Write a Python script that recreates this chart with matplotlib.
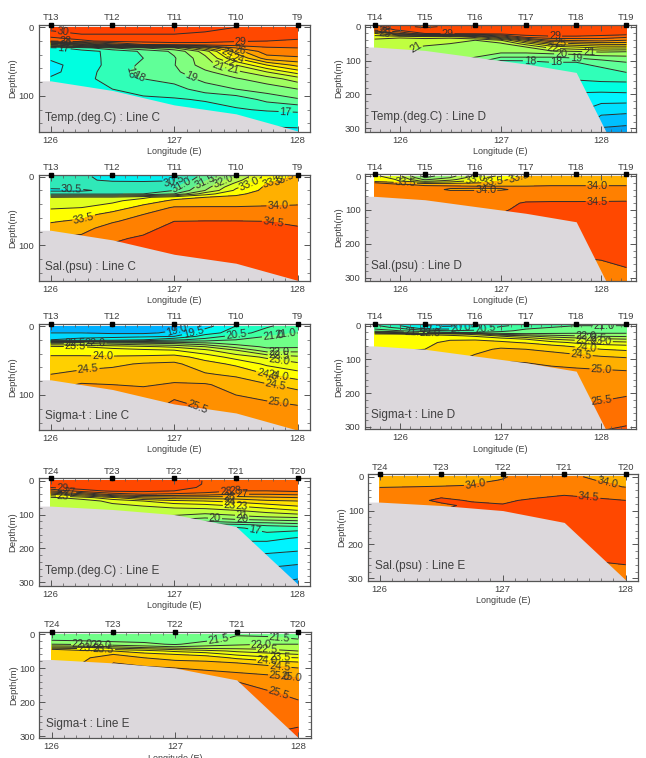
"""Hydrographic sections (temperature, salinity, sigma-t) along Lines C, D and E."""

import matplotlib

matplotlib.use("Agg")
import matplotlib.pyplot as plt
import numpy as np
from matplotlib.ticker import FixedLocator, MultipleLocator
from matplotlib.transforms import blended_transform_factory

plt.rcParams["font.family"] = ["Liberation Sans", "DejaVu Sans"]

FIG_W, FIG_H = 646, 758
INK = "#404040"
LAND = "#dcd8dc"

# contour levels and the band colour between each pair
TEMP_LEVELS = np.arange(12, 32, 1.0)
TEMP_COLORS = ["#00a4f4", "#00c0ff", "#00e0ff", "#00f4ff", "#00ffe0", "#30ffb8", "#60ff98", "#80ff80",
               "#a0ff60", "#c0ff40", "#e0ff20", "#ffff00", "#ffe000", "#ffc000", "#ffa000",
               "#ff8000", "#ff6000", "#ff4800", "#ff4000"]
SAL_LEVELS = np.arange(29.5, 35.5, 0.5)
SAL_COLORS = ["#00c8ff", "#00f0f0", "#30e8b8", "#60f090", "#90f070", "#b8f850", "#e0ff20",
              "#ffff00", "#ffb000", "#ff8000", "#ff4800"]
SIG_LEVELS = np.arange(18, 27, 0.5)
SIG_COLORS = ["#00a0ff", "#00b0ff", "#00d8ff", "#00f8f0", "#20ffc0", "#40ffa0", "#70ff88",
              "#90ff70", "#b0ff50", "#d0ff30", "#f0ff10", "#ffff00", "#ffd000", "#ffb000",
              "#ff9000", "#ff7000", "#ff5000"]

# station longitudes and names
LINE_C_STATIONS = ["T13", "T12", "T11", "T10", "T9"]
LINE_D_STATIONS = ["T14", "T15", "T16", "T17", "T18", "T19"]
LINE_E_STATIONS = ["T24", "T23", "T22", "T21", "T20"]
CE_STATION_LON = [126.0, 126.5, 127.0, 127.5, 128.0]
D_STATION_LON = [125.745, 126.245, 126.745, 127.25, 127.75, 128.25]

CE_LON = [126.0, 126.25, 126.5, 126.75, 127.0, 127.25, 127.5, 127.75, 128.0]
D_LON = [125.745, 125.995, 126.245, 126.495, 126.745, 127.0, 127.25, 127.5, 127.75, 128.0, 128.25]

# sea floor
C_BOTTOM_LON = [125.8, 126.0, 126.5, 127.0, 127.5, 128.0]
C_BOTTOM = [78, 78, 92, 113, 126, 151]
D_BOTTOM_LON = [125.6, 125.745, 126.245, 126.745, 127.25, 127.75, 128.05]
D_BOTTOM = [60, 60, 70, 90, 110, 135, 312]
E_BOTTOM_LON = [125.8, 126.0, 126.5, 127.0, 127.5, 128.0]
E_BOTTOM = [75, 75, 85, 100, 135, 305]

TEMP_C_Z = [0, 10, 20, 25, 30, 35, 45, 55, 65, 75, 90, 105, 120, 135, 155]
TEMP_C = [
    [30.2, 30.2, 30.2, 30.2, 30.2, 30.2, 30.0, 29.8, 29.7],
    [29.8, 30.0, 30.0, 30.0, 30.0, 29.9, 29.6, 29.4, 29.3],
    [28.0, 28.8, 29.3, 29.4, 29.4, 29.3, 29.1, 29.0, 28.9],
    [22.0, 24.0, 26.5, 28.0, 28.5, 28.6, 28.5, 28.4, 28.4],
    [16.7, 17.5, 19.0, 20.0, 21.0, 24.0, 27.0, 27.9, 28.0],
    [16.4, 16.7, 17.2, 18.2, 19.2, 21.5, 25.5, 27.6, 27.7],
    [16.1, 16.5, 17.3, 18.0, 18.9, 20.7, 24.0, 26.5, 26.8],
    [15.8, 16.3, 17.4, 18.2, 18.95, 20.5, 22.0, 24.0, 25.3],
    [15.8, 16.4, 17.6, 18.3, 18.8, 19.8, 20.7, 22.0, 23.5],
    [16.1, 16.6, 17.5, 18.0, 18.4, 19.3, 19.9, 20.5, 21.5],
    [16.4, 16.5, 17.0, 17.2, 17.6, 18.5, 19.0, 19.5, 20.0],
    [16.3, 16.4, 16.6, 16.9, 16.9, 17.1, 17.4, 18.3, 18.9],
    [16.2, 16.2, 16.3, 16.4, 16.5, 16.6, 16.9, 17.1, 17.2],
    [16.1, 16.1, 16.1, 16.1, 16.1, 16.1, 16.1, 16.3, 16.4],
    [15.6, 15.6, 15.6, 15.6, 15.6, 15.7, 15.7, 15.7, 15.7],
]

SAL_C_Z = [0, 5, 10, 15, 20, 25, 30, 35, 45, 55, 65, 75, 90, 110, 155]
SAL_C = [
    [30.6, 30.6, 30.3, 30.2, 30.4, 31.2, 32.0, 33.2, 33.6],
    [30.6, 30.6, 30.4, 30.3, 30.45, 31.4, 32.3, 33.3, 33.7],
    [30.7, 30.7, 30.7, 30.8, 30.7, 31.6, 32.6, 33.5, 33.75],
    [30.6, 30.7, 30.8, 31.0, 30.9, 31.8, 32.9, 33.6, 33.8],
    [30.4, 30.4, 30.7, 30.9, 31.0, 32.0, 33.1, 33.65, 33.85],
    [30.9, 30.9, 30.9, 31.0, 31.5, 32.8, 33.4, 33.7, 33.85],
    [32.5, 32.6, 32.6, 32.9, 33.3, 33.5, 33.6, 33.75, 33.9],
    [32.7, 32.8, 32.9, 33.2, 33.6, 33.7, 33.7, 33.85, 33.92],
    [32.95, 33.0, 33.2, 33.7, 34.05, 34.05, 34.05, 34.05, 34.05],
    [33.2, 33.3, 33.7, 34.0, 34.2, 34.2, 34.2, 34.2, 34.2],
    [33.45, 33.6, 33.95, 34.2, 34.5, 34.52, 34.52, 34.5, 34.45],
    [33.7, 33.85, 34.2, 34.4, 34.6, 34.6, 34.6, 34.55, 34.52],
    [34.0, 34.1, 34.45, 34.55, 34.7, 34.7, 34.7, 34.7, 34.7],
    [34.2, 34.3, 34.6, 34.7, 34.75, 34.75, 34.75, 34.75, 34.75],
    [34.3, 34.4, 34.7, 34.75, 34.8, 34.8, 34.8, 34.8, 34.8],
]

SIG_C_Z = [0, 10, 15, 20, 25, 30, 35, 45, 55, 70, 85, 100, 120, 155]
SIG_C = [
    [18.8, 18.8, 18.7, 18.7, 18.8, 19.3, 20.0, 20.4, 20.9],
    [19.0, 19.0, 18.9, 18.9, 19.1, 19.8, 20.2, 20.8, 21.0],
    [19.4, 19.4, 19.4, 19.4, 19.5, 20.2, 20.7, 21.0, 21.1],
    [19.5, 19.6, 19.7, 20.0, 20.4, 20.7, 21.0, 21.1, 21.2],
    [22.5, 22.5, 22.2, 22.0, 21.9, 21.6, 21.3, 21.25, 21.3],
    [23.6, 23.5, 23.3, 23.1, 22.9, 22.5, 21.8, 21.4, 21.4],
    [23.8, 23.8, 23.7, 23.6, 23.5, 23.1, 22.5, 21.7, 21.8],
    [24.05, 24.05, 24.05, 24.1, 24.2, 23.8, 23.3, 22.9, 22.6],
    [24.2, 24.3, 24.4, 24.55, 24.6, 24.2, 23.9, 23.4, 23.1],
    [24.5, 24.65, 24.7, 24.75, 24.8, 24.55, 24.4, 24.0, 23.7],
    [24.8, 25.05, 25.0, 24.95, 25.05, 25.05, 24.8, 24.55, 24.3],
    [25.2, 25.2, 25.2, 25.2, 25.45, 25.25, 25.0, 24.85, 24.7],
    [25.4, 25.4, 25.4, 25.4, 25.6, 25.5, 25.4, 25.2, 25.1],
    [25.5, 25.5, 25.5, 25.5, 25.7, 25.6, 25.45, 25.35, 25.3],
]

TEMP_D_Z = [0, 10, 20, 30, 40, 50, 60, 75, 90, 105, 120, 150, 180, 210, 250, 280, 312]
TEMP_D = [
    [28.9, 29.3, 28.8, 29.2, 29.6, 30.0, 30.0, 30.0, 30.0, 30.0, 30.0],
    [28.0, 29.2, 29.5, 29.7, 29.9, 29.9, 30.0, 30.0, 30.0, 30.0, 30.0],
    [24.0, 27.0, 29.0, 29.4, 29.5, 29.5, 29.6, 29.7, 29.7, 29.6, 29.5],
    [22.4, 22.2, 22.5, 22.6, 23.5, 26.0, 28.5, 28.8, 28.8, 28.6, 28.2],
    [21.8, 21.6, 21.5, 21.1, 21.0, 22.0, 25.0, 27.0, 27.2, 27.4, 27.0],
    [21.5, 21.3, 21.2, 21.0, 20.9, 20.8, 22.5, 24.5, 25.0, 25.4, 25.5],
    [21.3, 21.2, 20.9, 20.8, 20.5, 20.5, 21.0, 22.5, 23.0, 23.5, 23.5],
    [21.2, 21.2, 20.8, 20.6, 20.4, 20.2, 20.2, 20.5, 20.7, 21.0, 20.8],
    [21.0, 21.0, 20.8, 20.4, 20.0, 19.0, 19.0, 19.0, 19.2, 19.6, 19.8],
    [20.5, 20.5, 20.4, 20.0, 19.2, 17.5, 17.6, 18.0, 18.0, 18.5, 19.0],
    [20.0, 20.0, 20.0, 19.5, 18.5, 17.0, 17.0, 17.4, 17.6, 18.0, 18.6],
    [19.0, 19.0, 19.0, 18.5, 18.0, 17.0, 17.0, 17.2, 17.2, 17.4, 17.4],
    [18.0, 18.0, 18.0, 18.0, 17.5, 17.0, 16.8, 16.6, 16.4, 16.4, 16.5],
    [17.0, 17.0, 17.0, 17.0, 17.0, 16.5, 16.0, 15.8, 15.6, 15.5, 15.5],
    [16.0, 16.0, 16.0, 16.0, 16.0, 16.0, 15.5, 15.2, 15.1, 14.3, 14.2],
    [15.0, 15.0, 15.0, 15.0, 15.0, 15.0, 15.0, 14.9, 14.8, 13.5, 13.3],
    [14.5, 14.5, 14.5, 14.5, 14.5, 14.5, 14.5, 14.5, 14.5, 12.6, 12.5],
]

SAL_D_Z = [0, 5, 10, 15, 20, 25, 30, 35, 40, 45, 60, 80, 100, 130, 180, 240, 270, 312]
SAL_D = [
    [33.1, 32.6, 31.3, 31.8, 32.6, 33.1, 33.6, 33.7, 33.75, 33.75, 33.8],
    [33.2, 32.8, 31.5, 32.0, 32.8, 33.3, 33.6, 33.75, 33.8, 33.8, 33.8],
    [33.4, 32.9, 31.9, 32.3, 33.0, 33.4, 33.7, 33.8, 33.85, 33.85, 33.85],
    [33.3, 33.0, 32.4, 32.7, 33.2, 33.5, 33.75, 33.85, 33.9, 33.9, 33.9],
    [34.0, 33.6, 33.2, 33.3, 33.45, 33.6, 33.8, 33.9, 33.9, 33.9, 33.9],
    [34.1, 34.05, 33.9, 33.9, 33.85, 33.85, 33.9, 33.95, 33.95, 33.95, 33.95],
    [34.1, 34.1, 34.05, 34.02, 34.0, 34.0, 34.0, 34.02, 34.02, 34.02, 34.02],
    [34.1, 34.1, 34.1, 34.02, 34.01, 34.01, 34.05, 34.05, 34.05, 34.05, 34.05],
    [34.1, 34.1, 34.1, 33.97, 33.97, 33.98, 34.05, 34.1, 34.1, 34.1, 34.1],
    [34.1, 34.1, 34.1, 34.03, 34.03, 34.03, 34.1, 34.15, 34.15, 34.15, 34.15],
    [34.2, 34.2, 34.2, 34.2, 34.2, 34.2, 34.25, 34.3, 34.3, 34.32, 34.35],
    [34.3, 34.3, 34.3, 34.3, 34.3, 34.35, 34.55, 34.56, 34.56, 34.56, 34.56],
    [34.35, 34.35, 34.35, 34.35, 34.35, 34.45, 34.6, 34.62, 34.62, 34.62, 34.62],
    [34.4, 34.4, 34.4, 34.4, 34.4, 34.6, 34.7, 34.7, 34.7, 34.7, 34.7],
    [34.4, 34.4, 34.4, 34.4, 34.4, 34.6, 34.7, 34.7, 34.7, 34.7, 34.65],
    [34.4, 34.4, 34.4, 34.4, 34.4, 34.5, 34.5, 34.5, 34.5, 34.52, 34.56],
    [34.3, 34.3, 34.3, 34.3, 34.3, 34.3, 34.4, 34.4, 34.4, 34.45, 34.5],
    [34.2, 34.2, 34.2, 34.2, 34.2, 34.2, 34.3, 34.3, 34.3, 34.35, 34.4],
]

SIG_D_Z = [0, 5, 10, 15, 20, 25, 30, 40, 50, 60, 70, 85, 100, 130, 170, 210, 250, 290, 312]
SIG_D = [
    [20.6, 20.0, 19.4, 19.4, 19.9, 20.4, 20.7, 20.9, 21.0, 21.0, 21.0],
    [20.8, 20.3, 19.6, 19.7, 20.1, 20.6, 20.9, 21.0, 21.1, 21.1, 21.1],
    [21.0, 20.7, 20.0, 20.0, 20.3, 20.8, 21.0, 21.1, 21.2, 21.2, 21.2],
    [21.2, 21.0, 20.7, 20.5, 20.6, 20.9, 21.1, 21.2, 21.3, 21.3, 21.3],
    [22.5, 21.8, 21.3, 21.0, 21.0, 21.1, 21.25, 21.35, 21.4, 21.4, 21.4],
    [23.6, 23.5, 23.4, 23.2, 22.8, 21.8, 21.6, 21.6, 21.6, 21.6, 21.6],
    [23.7, 23.7, 23.7, 23.6, 23.4, 22.9, 22.5, 22.2, 22.0, 21.9, 21.85],
    [23.8, 23.8, 23.85, 23.95, 23.95, 23.8, 23.5, 23.0, 22.8, 22.6, 22.5],
    [23.85, 23.85, 23.9, 24.1, 24.15, 24.1, 23.95, 23.7, 23.4, 23.2, 23.1],
    [23.9, 23.9, 23.95, 24.15, 24.3, 24.4, 24.3, 24.1, 23.9, 23.7, 23.6],
    [23.95, 23.95, 24.0, 24.25, 24.4, 24.55, 24.5, 24.4, 24.2, 24.0, 23.9],
    [24.05, 24.1, 24.15, 24.3, 24.5, 24.7, 24.7, 24.6, 24.5, 24.4, 24.3],
    [24.4, 24.4, 24.4, 24.4, 24.6, 24.95, 24.9, 24.8, 24.7, 24.65, 24.6],
    [24.8, 24.8, 24.8, 24.8, 24.9, 25.2, 25.2, 25.1, 25.05, 25.0, 24.98],
    [25.2, 25.2, 25.2, 25.2, 25.2, 25.3, 25.3, 25.3, 25.3, 25.25, 25.2],
    [25.4, 25.4, 25.4, 25.4, 25.4, 25.45, 25.45, 25.45, 25.45, 25.45, 25.5],
    [25.6, 25.6, 25.6, 25.6, 25.6, 25.6, 25.6, 25.6, 25.55, 25.6, 25.7],
    [25.9, 25.9, 25.9, 25.9, 25.9, 25.9, 25.9, 25.9, 25.85, 25.85, 25.95],
    [26.1, 26.1, 26.1, 26.1, 26.1, 26.1, 26.1, 26.1, 26.0, 26.0, 26.1],
]

TEMP_E_Z = [0, 10, 20, 30, 40, 50, 60, 75, 90, 105, 120, 130, 140, 170, 200, 240, 270, 310]
TEMP_E = [
    [30.0, 30.0, 30.0, 30.0, 29.9, 28.9, 28.6, 28.6, 28.5],
    [29.6, 29.9, 30.0, 30.0, 29.8, 28.9, 28.5, 28.5, 28.5],
    [29.0, 29.5, 29.7, 29.7, 29.5, 28.8, 28.3, 28.3, 28.4],
    [27.0, 28.6, 29.2, 29.3, 29.0, 28.6, 28.0, 28.0, 28.2],
    [24.0, 25.5, 27.5, 28.0, 27.8, 27.5, 27.0, 27.0, 27.2],
    [21.8, 22.5, 23.8, 25.3, 25.6, 25.5, 25.5, 25.8, 26.0],
    [21.0, 21.5, 22.3, 23.0, 23.7, 24.0, 24.3, 24.8, 25.0],
    [21.3, 21.7, 21.7, 22.0, 22.3, 22.5, 23.0, 23.5, 24.0],
    [21.0, 21.2, 21.3, 21.4, 21.5, 21.5, 21.8, 22.3, 22.8],
    [20.8, 21.0, 21.1, 21.0, 20.9, 20.5, 20.8, 21.2, 21.4],
    [19.5, 20.0, 20.0, 20.0, 19.5, 19.0, 19.5, 19.6, 19.8],
    [18.5, 19.0, 19.0, 19.0, 18.2, 17.6, 17.8, 18.2, 18.6],
    [18.0, 18.0, 18.0, 17.8, 17.5, 16.8, 16.8, 17.5, 17.4],
    [16.0, 16.0, 16.0, 16.0, 16.0, 16.0, 16.2, 16.3, 15.9],
    [15.5, 15.5, 15.5, 15.5, 15.5, 15.5, 15.5, 15.3, 15.2],
    [14.7, 14.7, 14.7, 14.7, 14.7, 14.7, 14.7, 14.5, 14.2],
    [14.0, 14.0, 14.0, 14.0, 14.0, 14.0, 14.0, 13.6, 13.4],
    [13.8, 13.8, 13.8, 13.8, 13.8, 13.8, 13.8, 13.0, 12.6],
]

SAL_E_Z = [0, 10, 20, 30, 40, 55, 70, 85, 100, 130, 180, 230, 260, 310]
SAL_E = [
    [33.9, 33.9, 33.9, 33.92, 33.98, 34.1, 34.08, 33.95, 33.85],
    [33.9, 33.9, 33.92, 33.94, 34.01, 34.1, 34.1, 34.0, 33.9],
    [33.92, 33.94, 33.96, 33.98, 34.1, 34.15, 34.15, 34.05, 33.95],
    [33.98, 34.0, 34.01, 34.02, 34.15, 34.18, 34.2, 34.15, 33.98],
    [34.1, 34.1, 34.1, 34.1, 34.2, 34.25, 34.3, 34.25, 34.2],
    [34.2, 34.3, 34.45, 34.3, 34.3, 34.42, 34.5, 34.45, 34.4],
    [34.3, 34.42, 34.55, 34.48, 34.45, 34.55, 34.6, 34.55, 34.5],
    [34.35, 34.42, 34.45, 34.55, 34.52, 34.6, 34.65, 34.6, 34.6],
    [34.4, 34.45, 34.5, 34.6, 34.6, 34.65, 34.7, 34.7, 34.7],
    [34.4, 34.5, 34.6, 34.6, 34.7, 34.7, 34.75, 34.75, 34.75],
    [34.4, 34.5, 34.6, 34.6, 34.7, 34.7, 34.75, 34.75, 34.7],
    [34.4, 34.5, 34.6, 34.6, 34.6, 34.6, 34.6, 34.6, 34.55],
    [34.3, 34.4, 34.4, 34.4, 34.4, 34.4, 34.45, 34.45, 34.5],
    [34.2, 34.3, 34.3, 34.3, 34.3, 34.3, 34.3, 34.3, 34.4],
]

SIG_E_Z = [0, 15, 30, 35, 40, 45, 50, 60, 70, 85, 100, 120, 140, 170, 200, 250, 310]
SIG_E = [
    [21.2, 21.2, 21.2, 21.2, 21.2, 21.3, 21.45, 21.4, 21.2],
    [21.35, 21.3, 21.3, 21.3, 21.3, 21.35, 21.6, 21.6, 21.5],
    [22.0, 21.9, 21.7, 21.6, 21.45, 21.7, 21.9, 22.0, 22.0],
    [22.5, 22.4, 22.2, 22.0, 21.7, 22.0, 22.1, 22.2, 22.1],
    [23.2, 23.1, 22.8, 22.5, 22.3, 22.3, 22.3, 22.3, 22.3],
    [24.0, 23.8, 23.4, 23.2, 22.9, 22.7, 22.6, 22.5, 22.4],
    [24.1, 24.1, 24.0, 23.7, 23.4, 23.2, 22.9, 22.7, 22.5],
    [24.2, 24.3, 24.5, 24.2, 24.0, 23.8, 23.4, 23.2, 23.0],
    [24.3, 24.4, 24.8, 24.5, 24.4, 24.3, 23.9, 23.6, 23.5],
    [24.4, 24.5, 25.0, 24.9, 24.6, 24.6, 24.5, 24.3, 24.1],
    [24.5, 24.6, 25.1, 25.05, 25.0, 24.9, 24.8, 24.7, 24.5],
    [24.6, 24.8, 25.2, 25.2, 25.2, 25.2, 25.1, 25.0, 24.9],
    [24.8, 25.0, 25.3, 25.3, 25.4, 25.4, 25.5, 25.2, 25.1],
    [25.0, 25.2, 25.4, 25.4, 25.4, 25.5, 25.6, 25.55, 25.3],
    [25.2, 25.3, 25.5, 25.5, 25.5, 25.5, 25.6, 25.6, 25.55],
    [25.5, 25.5, 25.6, 25.6, 25.7, 25.7, 25.7, 25.75, 25.8],
    [26.0, 26.0, 26.0, 26.0, 26.1, 26.1, 26.1, 26.1, 26.3],
]


def add_section(frame, cal, lons, depths, values, levels, colors, stations, station_lon,
                floor_lon, floor, title, label_at, label_levels, fmt):
    """Draw one section. frame and cal are pixel positions on the figure."""
    x0, y0, x1, y1 = frame
    x126, x128, y_top, y_300 = cal
    per_deg = (x128 - x126) / 2.0
    per_m = (y_300 - y_top) / 300.0
    ax = plt.figure(1).add_axes([x0 / FIG_W, 1 - y1 / FIG_H, (x1 - x0) / FIG_W, (y1 - y0) / FIG_H])
    ax.set_xlim(126 + (x0 - x126) / per_deg, 126 + (x1 - x126) / per_deg)
    ax.set_ylim((y1 - y_top) / per_m, (y0 - y_top) / per_m)

    data = np.array(values)
    ax.contourf(lons, depths, data, levels=levels, colors=colors, zorder=1)
    cs = ax.contour(lons, depths, data, levels=levels, colors="#2e2e2e", linewidths=0.7, zorder=2)
    ax.fill_between(floor_lon, floor, 1000, color=LAND, lw=0, zorder=2.5)
    ax.clabel(cs, levels=label_levels, manual=label_at, fontsize=7.8, fmt=fmt, inline_spacing=1,
              colors="#303030")

    trans = blended_transform_factory(ax.transData, ax.transAxes)
    ax.plot(station_lon, [1.0] * len(station_lon), "s", color="black", ms=2.8, transform=trans,
            clip_on=False, zorder=6)
    for name, lon in zip(stations, station_lon):
        ax.text(lon, 1.025, name, transform=trans, ha="center", va="bottom", fontsize=6.8, color=INK)

    ax.xaxis.set_major_locator(FixedLocator([126, 127, 128]))
    ax.xaxis.set_major_formatter(lambda v, _: f"{v:.0f}")
    ax.xaxis.set_minor_locator(MultipleLocator(0.1))
    ax.yaxis.set_major_locator(MultipleLocator(100))
    ax.yaxis.set_minor_locator(MultipleLocator(20))
    ax.tick_params(which="major", direction="in", length=4, width=0.7, color="#555555", top=True,
                   right=True, labelsize=6.8, labelcolor=INK, pad=3)
    ax.tick_params(which="minor", direction="in", length=2, width=0.5, color="#555555", top=True,
                   right=True)
    for spine in ax.spines.values():
        spine.set_color("#555555")
        spine.set_linewidth(0.9)
        spine.set_zorder(5)
    ax.set_axisbelow(False)
    ax.set_xlabel("Longitude (E)", fontsize=6.5, color=INK, labelpad=1.5)
    ax.set_ylabel("Depth(m)", fontsize=6.8, color=INK, labelpad=1)
    ax.text(0.025, 0.135, title, transform=ax.transAxes, fontsize=8.5, color=INK, va="center", zorder=6)
    return ax


fig = plt.figure(1, figsize=(FIG_W / 100, FIG_H / 100), dpi=100)

one_dp = lambda v: f"{v:.1f}"
whole = lambda v: f"{v:.0f}"

add_section((38.5, 25, 310, 132), (50.7, 297.7, 27.3, 233.3), CE_LON, TEMP_C_Z, TEMP_C,
            TEMP_LEVELS, TEMP_COLORS, LINE_C_STATIONS, CE_STATION_LON, C_BOTTOM_LON, C_BOTTOM,
            "Temp.(deg.C) : Line C",
            [(127.54, 17), (127.53, 33), (127.45, 51), (127.36, 56), (127.47, 66), (127.12, 79),
             (126.61, 71), (126.68, 83), (127.9, 133), (126.1, 37), (126.1, 9), (126.12, 20),
             (126.12, 26), (127.42, 40), (127.52, 43)],
            TEMP_LEVELS, whole)
add_section((364.7, 25, 636.3, 131.7), (400.3, 601.3, 26.7, 128.3), D_LON, TEMP_D_Z, TEMP_D,
            TEMP_LEVELS, TEMP_COLORS, LINE_D_STATIONS, D_STATION_LON, D_BOTTOM_LON, D_BOTTOM,
            "Temp.(deg.C) : Line D",
            [(126.15, 60), (126.47, 6), (127.54, 25), (127.6, 48), (127.52, 62),
             (127.6, 83), (127.88, 77), (127.75, 98), (127.55, 104), (127.29, 103), (125.85, 20),
             (125.85, 12)],
            TEMP_LEVELS, whole)
add_section((38.5, 175, 310, 281), (50.7, 297.7, 176.7, 382.7), CE_LON, SAL_C_Z, SAL_C,
            SAL_LEVELS, SAL_COLORS, LINE_C_STATIONS, CE_STATION_LON, C_BOTTOM_LON, C_BOTTOM,
            "Sal.(psu) : Line C",
            [(126.17, 17), (126.27, 62), (127.0, 8), (127.05, 9), (127.25, 8), (127.4, 8),
             (127.6, 6), (127.8, 7), (127.9, 8), (127.84, 41), (127.8, 70)],
            SAL_LEVELS, one_dp)
add_section((364.7, 174.3, 636.3, 280.7), (400.3, 601.3, 176, 277.7), D_LON, SAL_D_Z, SAL_D,
            SAL_LEVELS, SAL_COLORS, LINE_D_STATIONS, D_STATION_LON, D_BOTTOM_LON, D_BOTTOM,
            "Sal.(psu) : Line D",
            [(126.05, 18), (126.75, 12), (126.92, 12), (127.2, 13), (126.85, 40), (127.96, 30),
             (127.96, 71)],
            SAL_LEVELS, one_dp)
add_section((38.5, 324, 310, 430), (50.7, 297.7, 326, 533), CE_LON, SIG_C_Z, SIG_C,
            SIG_LEVELS, SIG_COLORS, LINE_C_STATIONS, CE_STATION_LON, C_BOTTOM_LON, C_BOTTOM,
            "Sigma-t : Line C",
            [(127.02, 6), (127.15, 6), (127.5, 8), (127.8, 8), (127.9, 12), (126.2, 25), (126.36, 24),
             (126.2, 32), (126.42, 40), (126.3, 58), (127.85, 36), (127.85, 44), (127.85, 52),
             (127.85, 67), (127.78, 70), (127.82, 87), (127.85, 105), (127.2, 112)],
            SIG_LEVELS, one_dp)
add_section((364.7, 324, 636.3, 429.3), (400.3, 601.3, 325.7, 426.7), D_LON, SIG_D_Z, SIG_D,
            SIG_LEVELS, SIG_COLORS, LINE_D_STATIONS, D_STATION_LON, D_BOTTOM_LON, D_BOTTOM,
            "Sigma-t : Line D",
            [(126.3, 6), (126.6, 10), (126.85, 13), (128.03, 0), (126.15, 20), (126.3, 22),
             (127.85, 30), (127.95, 36), (128.0, 45), (127.85, 48), (127.85, 62), (127.8, 84),
             (128.0, 115), (128.0, 218)],
            SIG_LEVELS, one_dp)
add_section((38.5, 478.3, 310, 585.7), (50.7, 297.7, 480.7, 582.3), CE_LON, TEMP_E_Z, TEMP_E,
            TEMP_LEVELS, TEMP_COLORS, LINE_E_STATIONS, CE_STATION_LON, E_BOTTOM_LON, E_BOTTOM,
            "Temp.(deg.C) : Line E",
            [(126.1, 15), (126.15, 32), (126.1, 45), (127.5, 12), (127.42, 32), (127.55, 40),
             (127.45, 47), (127.45, 65), (127.55, 72), (127.45, 80), (127.55, 100), (127.33, 115),
             (127.55, 117), (127.65, 155)],
            TEMP_LEVELS, whole)
add_section((368, 474.3, 638, 580.7), (379.7, 625.7, 476.7, 578.3), CE_LON, SAL_E_Z, SAL_E,
            SAL_LEVELS, SAL_COLORS, LINE_E_STATIONS, CE_STATION_LON, E_BOTTOM_LON, E_BOTTOM,
            "Sal.(psu) : Line E",
            [(126.78, 25), (127.85, 22), (127.7, 60)],
            SAL_LEVELS, one_dp)
add_section((39.3, 632, 311, 738.3), (51.7, 298.3, 634, 736), CE_LON, SIG_E_Z, SIG_E,
            SIG_LEVELS, SIG_COLORS, LINE_E_STATIONS, CE_STATION_LON, E_BOTTOM_LON, E_BOTTOM,
            "Sigma-t : Line E",
            [(127.35, 8), (127.85, 5), (126.25, 30), (126.4, 30), (126.3, 45), (126.42, 44),
             (127.7, 32), (127.75, 50), (127.85, 68), (127.75, 80), (127.85, 100), (127.85, 115),
             (127.85, 125), (127.85, 165)],
            SIG_LEVELS, one_dp)

fig.savefig("out.png", dpi=100)
